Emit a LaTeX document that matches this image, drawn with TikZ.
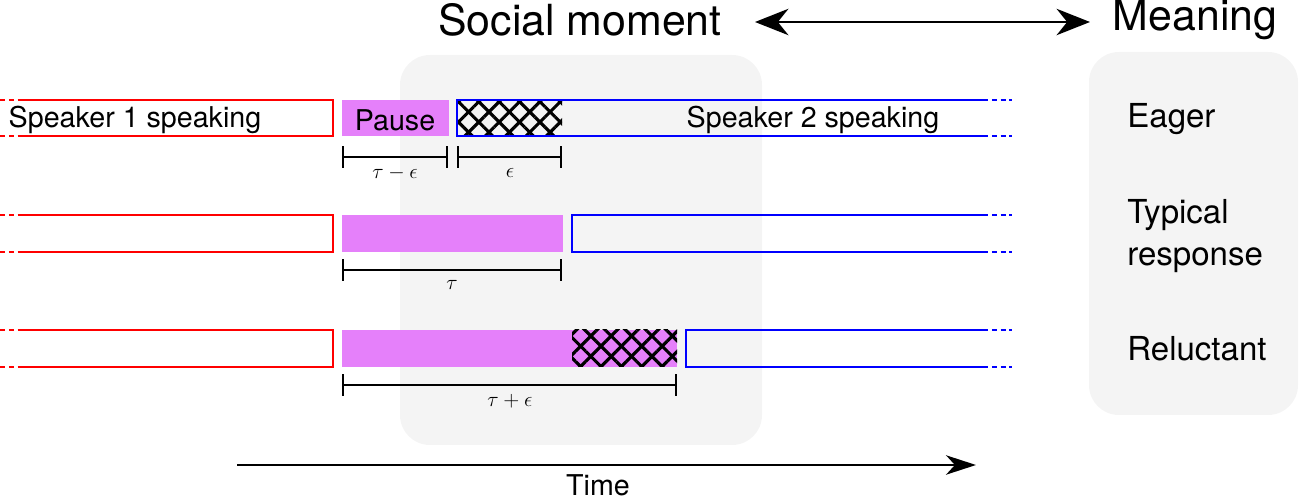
\documentclass[tikz,border=0pt]{standalone}
\usepackage{fontspec}
\setmainfont{TeX Gyre Heros}
\usetikzlibrary{arrows.meta,patterns.meta}
\definecolor{bgray}{RGB}{244,244,244}
\definecolor{pausecol}{RGB}{229,128,250}
\definecolor{sred}{RGB}{255,0,0}
\definecolor{sblue}{RGB}{0,0,255}
\tikzset{
  panel/.style={fill=bgray, rounded corners=17pt},
  spkone/.style={draw=sred, line width=1.1pt},
  spktwo/.style={draw=sblue, line width=1.1pt},
  dotext/.style={line width=1.1pt, dash pattern=on 3pt off 2pt},
  pausebox/.style={fill=pausecol},
  hatchA/.style={pattern={Lines[angle=45,distance=8.2pt,line width=1.8pt]}},
  hatchB/.style={pattern={Lines[angle=-45,distance=8.2pt,line width=1.8pt]}},
  dimline/.style={{Bar[width=12pt,line width=1.1pt]}-{Bar[width=12pt,line width=1.1pt]}, line width=1.1pt},
  lbl/.style={font=\fontsize{16.3}{19}\selectfont, inner sep=0pt},
  mlbl/.style={font=\fontsize{13}{15}\selectfont, inner sep=0pt},
  rlbl/.style={font=\fontsize{18.8}{24}\selectfont, inner sep=0pt, anchor=west, align=left},
  title/.style={font=\fontsize{24.4}{28}\selectfont, inner sep=0pt},
  bigarrow/.style={line width=1.4pt},
}
\begin{document}
\begin{tikzpicture}[x=0.02cm,y=-0.02cm]
\useasboundingbox (0,0) rectangle (1299,499);
% panels
\fill[panel] (400,55) rectangle (762,445);
\fill[panel] (1089,52) rectangle (1298,415);
% titles
\node[title] (social) at (580,20) {Social moment};
\node[title] (meaning) at (1195,20) {Meaning};
\coordinate (da) at (755,22);
\coordinate (db) at (1090,22);
\draw[bigarrow, {Stealth[length=19pt,width=15pt,inset=6pt]}-{Stealth[length=19pt,width=15pt,inset=6pt]}] (da) -- (db);

% ---- Row 1 (eager) ----
\fill[pausebox] (342,100) rectangle (449,136);
\fill[hatchA] (457,100) rectangle (562,136);
\fill[hatchB] (457,100) rectangle (562,136);
\draw[spkone] (22,100) -- (333,100) -- (333,136) -- (22,136);
\draw[dotext, sred] (0,100) -- (22,100) (0,136) -- (22,136);
\draw[spktwo] (983,100) -- (457,100) -- (457,136) -- (983,136);
\draw[dotext, sblue] (983,100) -- (1012,100) (983,136) -- (1012,136);
\node[lbl] (s1a) at (135,120) {Speaker 1 speaking};
\node[lbl] (pa) at (395,120) {Pause};
\node[lbl] (s2a) at (813,120) {Speaker 2 speaking};
\coordinate (d1a) at (342,157); \coordinate (d1b) at (448,157);
\coordinate (d2a) at (457,157); \coordinate (d2b) at (562,157);
\draw[dimline] (d1a) -- (d1b);
\draw[dimline] (d2a) -- (d2b);
\node[mlbl] (l1) at (395,173) {$\tau-\epsilon$};
\node[mlbl] (l2) at (510,173) {$\epsilon$};

% ---- Row 2 (typical) ----
\fill[pausebox] (342,215) rectangle (563,252);
\draw[spkone] (22,215) -- (333,215) -- (333,252) -- (22,252);
\draw[dotext, sred] (0,215) -- (22,215) (0,252) -- (22,252);
\draw[spktwo] (983,215) -- (572,215) -- (572,252) -- (983,252);
\draw[dotext, sblue] (983,215) -- (1012,215) (983,252) -- (1012,252);
\coordinate (d3a) at (342,270); \coordinate (d3b) at (562,270);
\draw[dimline] (d3a) -- (d3b);
\node[mlbl] (l3) at (452,285) {$\tau$};

% ---- Row 3 (reluctant) ----
\fill[pausebox] (342,330) rectangle (677,367);
\fill[hatchA] (572,330) rectangle (677,367);
\fill[hatchB] (572,330) rectangle (677,367);
\draw[spkone] (22,330) -- (333,330) -- (333,367) -- (22,367);
\draw[dotext, sred] (0,330) -- (22,330) (0,367) -- (22,367);
\draw[spktwo] (983,330) -- (686,330) -- (686,367) -- (983,367);
\draw[dotext, sblue] (983,330) -- (1012,330) (983,367) -- (1012,367);
\coordinate (d4a) at (342,385); \coordinate (d4b) at (677,385);
\draw[dimline] (d4a) -- (d4b);
\node[mlbl] (l4) at (510,401) {$\tau+\epsilon$};

% meaning labels
\node[rlbl] (eager) at (1127,119) {Eager};
\node[rlbl] (typical) at (1127,236) {Typical\\response};
\node[rlbl] (reluct) at (1127,349) {Reluctant};

% time axis
\coordinate (t0) at (237,465);
\coordinate (t1) at (976,465);
\draw[bigarrow, -{Stealth[length=17pt,width=11pt,inset=5pt]}] (t0) -- (t1);
\node[lbl] (time) at (598,485) {Time};
\end{tikzpicture}
\end{document}
